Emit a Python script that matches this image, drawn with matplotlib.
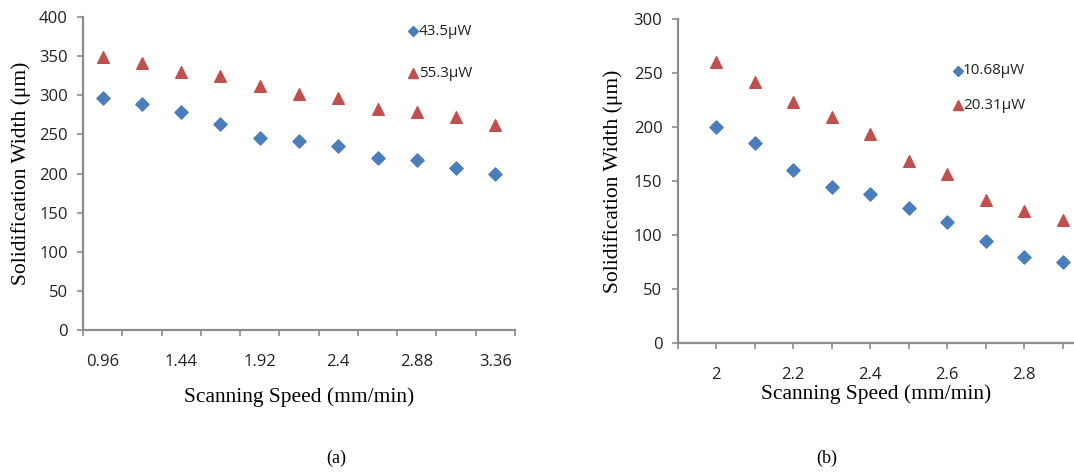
import numpy as np
import matplotlib
matplotlib.use("Agg")
import matplotlib.pyplot as plt

# ---- data -------------------------------------------------------------
speed_a = [0.96, 1.2, 1.44, 1.68, 1.92, 2.16, 2.4, 2.64, 2.88, 3.12, 3.36]
width_a_low = [296, 289, 278, 263, 246, 241, 235, 220, 217, 207, 200]
width_a_high = [349, 341, 330, 324, 312, 301, 296, 283, 279, 272, 262]
label_a = ["43.5\u03bcW", "55.3\u03bcW"]

speed_b = [2.0, 2.1, 2.2, 2.3, 2.4, 2.5, 2.6, 2.7, 2.8, 2.9]
width_b_low = [200, 185, 160, 145, 138, 125, 112, 95, 80, 75]
width_b_high = [260, 242, 223, 209, 194, 169, 157, 133, 122, 114]
label_b = ["10.68\u03bcW", "20.31\u03bcW"]

BLUE = "#4a7ebb"
RED = "#c0504d"
SPINE = "#8c8c8c"
TICK_FONT = "Open Sans"
SERIF = "Liberation Serif"


def style_axes(ax):
    ax.xaxis.remove_overlapping_locs = False
    for side in ("top", "right"):
        ax.spines[side].set_visible(False)
    for side in ("left", "bottom"):
        ax.spines[side].set_color(SPINE)
        ax.spines[side].set_linewidth(1.6)
    ax.tick_params(which="major", color=SPINE, length=4, width=1.2, direction="out")
    ax.tick_params(which="minor", length=0)
    for lab in ax.get_yticklabels() + ax.get_xticklabels(which="both"):
        lab.set_fontfamily(TICK_FONT)
        lab.set_fontsize(12)
        lab.set_color("#222222")


def add_legend(ax, labels, x, y0, dy):
    markers = [("D", 5.5, BLUE), ("^", 7.5, RED)]
    for i, ((m, ms, c), lab) in enumerate(zip(markers, labels)):
        yy = y0 - i * dy
        ax.plot([x], [yy], transform=ax.transAxes, ls="none",
                marker=m, ms=ms, color=c, clip_on=False)
        ax.text(x + 0.012, yy, lab, transform=ax.transAxes, va="center", ha="left",
                fontsize=11, family=TICK_FONT, color="#222222")


fig = plt.figure(figsize=(10.74, 4.73), dpi=100)

# ---- panel (a): category axis -----------------------------------------
ax1 = fig.add_axes([0.0773, 0.3023, 0.4022, 0.6617])
xa = np.arange(len(speed_a))
ax1.scatter(xa, width_a_low, marker="D", s=45, color=BLUE, zorder=3)
ax1.scatter(xa, width_a_high, marker="^", s=70, color=RED, zorder=3)
ax1.set_xlim(-0.5, len(speed_a) - 0.5)
ax1.set_ylim(0, 400)
ax1.set_yticks(np.arange(0, 401, 50))
ax1.set_xticks(np.arange(-0.5, len(speed_a), 1.0))
ax1.set_xticklabels([])
ax1.set_xticks(xa[::2], minor=True)
ax1.set_xticklabels([f"{v:g}" for v in speed_a[::2]], minor=True)
ax1.tick_params(axis="x", which="minor", pad=17)
ax1.tick_params(axis="y", pad=7)
style_axes(ax1)
ax1.set_xlabel("Scanning Speed (mm/min)", family=SERIF, fontsize=15.5, labelpad=13)
ax1.set_ylabel("Solidification Width (\u03bcm)", family=SERIF, fontsize=15.5, labelpad=6)
add_legend(ax1, label_a, 0.765, 0.955, 0.135)

# ---- panel (b) --------------------------------------------------------
ax2 = fig.add_axes([0.631, 0.2742, 0.369, 0.6856])
ax2.scatter(speed_b, width_b_low, marker="D", s=45, color=BLUE, zorder=3)
ax2.scatter(speed_b, width_b_high, marker="^", s=70, color=RED, zorder=3)
ax2.set_xlim(1.9, 2.929)
ax2.set_ylim(0, 300)
ax2.set_yticks(np.arange(0, 301, 50))
ax2.set_xticks(np.arange(1.9, 2.95, 0.1))
ax2.set_xticklabels([])
ax2.set_xticks(speed_b[::2], minor=True)
ax2.set_xticklabels([f"{v:g}" for v in speed_b[::2]], minor=True)
ax2.tick_params(axis="x", which="minor", pad=17)
ax2.tick_params(axis="y", pad=7)
style_axes(ax2)
ax2.set_xlabel("Scanning Speed (mm/min)", family=SERIF, fontsize=15.5, labelpad=1)
ax2.set_ylabel("Solidification Width (\u03bcm)", family=SERIF, fontsize=15.5, labelpad=8)
add_legend(ax2, label_b, 0.708, 0.84, 0.106)

# ---- captions ---------------------------------------------------------
fig.text(336 / 1074, 1 - 458 / 473, "(a)", family=SERIF, fontsize=13,
         ha="center", va="center")
fig.text(827 / 1074, 1 - 458 / 473, "(b)", family=SERIF, fontsize=13,
         ha="center", va="center")

fig.savefig("out.png", dpi=100, facecolor="white")
